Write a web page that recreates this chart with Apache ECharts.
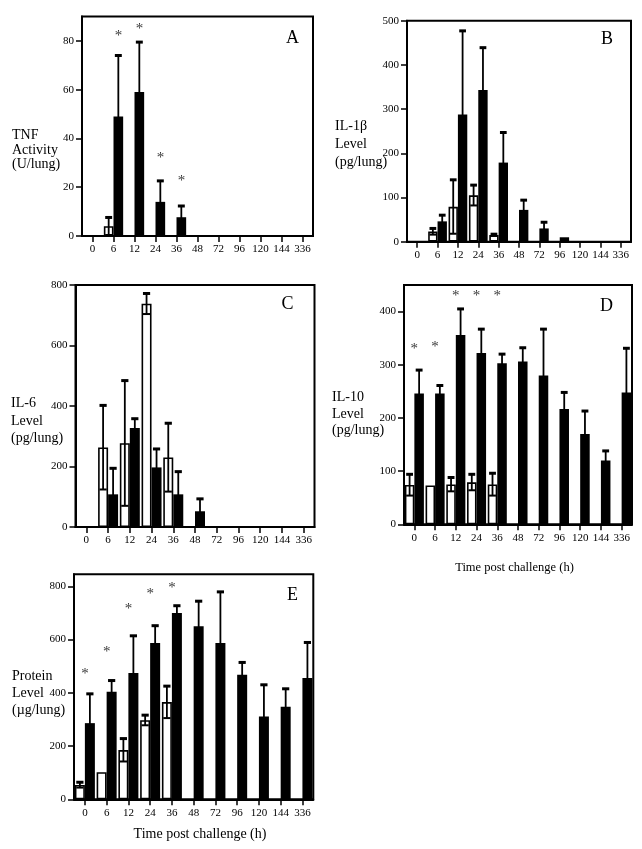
<!DOCTYPE html>
<html><head><meta charset="utf-8">
<script src="https://cdn.jsdelivr.net/npm/echarts@6/dist/echarts.min.js"></script>
<style>html,body{margin:0;padding:0;background:#fff}#c{width:642px;height:849px}</style>
</head><body><div id="c"></div>
<script>
// ---------- data ----------
const categories = ['0','6','12','24','36','48','72','96','120','144','336'];

// Panel A: TNF activity (U/lung)
const openA     = [null, 4,   null, null, null, null, null, null, null, null, null];
const openErrA  = [0,    3.6, 0,    0,    0,    0,    0,    0,    0,    0,    0];
const solidA    = [null, 49,  59,   14,   7.7,  null, null, null, null, null, null];
const solidErrA = [0,    25,  20.5, 8.6,  4.6,  0,    0,    0,    0,    0,    0];
const starA     = [null, 83.4, 86,  33,   23.7, null, null, null, null, null, null];
const yTicksA   = [0, 20, 40, 60, 80];

// Panel B: IL-1beta level (pg/lung)
const openB     = [null, 23, 79,  105, 15,  null, null, null, null, null, null];
const openErrB  = [0,    7,  61,  23,  2,   0,    0,    0,    0,    0,    0];
const solidB    = [null, 46, 288, 343, 179, 72,   30,   10,   null, null, null];
const solidErrB = [0,    14, 189, 96,  68,  22,   14,   0,    0,    0,    0];
const yTicksB   = [0, 100, 200, 300, 400, 500];

// Panel C: IL-6 level (pg/lung)
const openC     = [null, 263, 277, 738, 230, null, null, null, null, null, null];
const openErrC  = [0,    139, 207, 34,  113, 0,    0,    0,    0,    0,    0];
const solidC    = [null, 108, 327, 197, 108, 52,   null, null, null, null, null];
const solidErrC = [0,    86,  31,  61,  75,  41,   0,    0,    0,    0,    0];
const yTicksC   = [0, 200, 400, 600, 800];

// Panel D: IL-10 level (pg/lung)
const openD     = [74,  73,  75,  79,  75,  null, null, null, null, null, null];
const openErrD  = [20,  0,   13,  15,  21,  0,    0,    0,    0,    0,    0];
const solidD    = [246, 246, 356, 322, 303, 306,  280,  217,  170,  120,  248];
const solidErrD = [44,  15,  49,  45,  17,  26,   87,   31,   43,   18,   83];
const starD     = [336, 339, 434, 434, 434, null, null, null, null, null, null];
const yTicksD   = [0, 100, 200, 300, 400];

// Panel E: Protein level (µg/lung)
const openE     = [54,  102, 185, 297, 365, null, null, null, null, null, null];
const openErrE  = [10,  0,   43,  19,  60,  0,    0,    0,    0,    0,    0];
const solidE    = [286, 404, 474, 587, 700, 650,  587,  468,  311,  348,  456];
const solidErrE = [110, 42,  140, 65,  27,  94,   192,  46,   119,  67,   133];
const starE     = [480, 564, 727, 781, 806, null, null, null, null, null, null];
const yTicksE   = [0, 200, 400, 600, 800];

// ---------- styling / layout ----------
const FONT = '"Liberation Serif", "Times New Roman", serif';
const BAR_FRAC = 0.46;

const panels = [
  {open: openA, openErr: openErrA, solid: solidA, solidErr: solidErrA, star: starA, ticks: yTicksA, max: 90,
   grid: {left: 82, top: 16.5, width: 231, height: 219.5}, starDx: 5},
  {open: openB, openErr: openErrB, solid: solidB, solidErr: solidErrB, star: null, ticks: yTicksB, max: 500,
   grid: {left: 407, top: 20.7, width: 224, height: 221}, starDx: 0},
  {open: openC, openErr: openErrC, solid: solidC, solidErr: solidErrC, star: null, ticks: yTicksC, max: 800,
   grid: {left: 75.5, top: 285, width: 239, height: 242}, starDx: 0},
  {open: openD, openErr: openErrD, solid: solidD, solidErr: solidErrD, star: starD, ticks: yTicksD, max: 450,
   grid: {left: 404, top: 285, width: 228, height: 239.3}, starDx: 0},
  {open: openE, openErr: openErrE, solid: solidE, solidErr: solidErrE, star: starE, ticks: yTicksE, max: 845,
   grid: {left: 74, top: 574.3, width: 239.3, height: 225}, starDx: 0}
];

function errSeries(idx, vals, errs, side) {
  return {
    type: 'custom', xAxisIndex: idx, yAxisIndex: idx, z: 5,
    data: vals.map((v, i) => [i, v == null ? 0 : v, errs[i] || 0]),
    encode: {x: 0, y: 1},
    renderItem: function (params, api) {
      const i = api.value(0), v = api.value(1), e = api.value(2);
      if (!(e > 0)) return null;
      const band = api.size([1, 0])[0];
      const bw = band * BAR_FRAC;
      const x = api.coord([i, 0])[0] + side * bw / 2;
      const yHi = api.coord([i, v + e])[1];
      const yLo = api.coord([i, Math.max(v - e, 0)])[1];
      const cw = bw * 0.72;
      return {type: 'group', children: [
        {type: 'line', shape: {x1: x, y1: yLo, x2: x, y2: yHi}, style: {stroke: '#000', lineWidth: 1.8}},
        {type: 'line', shape: {x1: x - cw / 2, y1: yHi, x2: x + cw / 2, y2: yHi}, style: {stroke: '#000', lineWidth: 3}},
        {type: 'line', shape: {x1: x - cw / 2, y1: yLo, x2: x + cw / 2, y2: yLo}, style: {stroke: '#000', lineWidth: 2}}
      ]};
    }
  };
}

const grids = [], xAxes = [], yAxes = [], series = [];
panels.forEach((p, idx) => {
  grids.push(Object.assign({show: true, borderColor: '#000', borderWidth: 2, containLabel: false}, p.grid));
  xAxes.push({
    gridIndex: idx, type: 'category', data: categories, boundaryGap: true,
    axisLine: {show: true, lineStyle: {color: '#000', width: 2}},
    axisTick: {show: true, alignWithLabel: true, interval: 0, length: 6, lineStyle: {color: '#000', width: 1.5}},
    axisLabel: {interval: 0, fontFamily: FONT, fontSize: 11, color: '#000', margin: 8},
    splitLine: {show: false}
  });
  yAxes.push({
    gridIndex: idx, type: 'value', min: 0, max: p.max,
    axisLine: {show: true, lineStyle: {color: '#000', width: 2}},
    axisTick: {show: true, length: 6, customValues: p.ticks, lineStyle: {color: '#000', width: 1.5}},
    axisLabel: {customValues: p.ticks, fontFamily: FONT, fontSize: 11, color: '#000', margin: 8},
    splitLine: {show: false}
  });
  series.push({
    type: 'bar', xAxisIndex: idx, yAxisIndex: idx, data: p.open,
    barWidth: (BAR_FRAC * 100) + '%', barGap: '0%',
    itemStyle: {color: '#fff', borderColor: '#000', borderWidth: 1.6}
  });
  series.push({
    type: 'bar', xAxisIndex: idx, yAxisIndex: idx, data: p.solid,
    barWidth: (BAR_FRAC * 100) + '%', barGap: '0%',
    itemStyle: {color: '#000'}
  });
  series.push(errSeries(idx, p.open, p.openErr, -1));
  series.push(errSeries(idx, p.solid, p.solidErr, 1));
  if (p.star) {
    series.push({
      type: 'scatter', xAxisIndex: idx, yAxisIndex: idx, z: 6,
      symbolSize: 1, itemStyle: {color: 'rgba(0,0,0,0)'},
      data: p.star.map((v, i) => [i, v]).filter(d => d[1] != null),
      label: {show: true, position: 'inside', formatter: '*', fontFamily: FONT, fontSize: 15,
              color: '#000', offset: [p.starDx, 3]}
    });
  }
});

function txt(text, x, y, size, opts) {
  return {type: 'text', x: x, y: y, style: Object.assign({
    text: text, fontFamily: FONT, fontSize: size, fill: '#000'}, opts || {})};
}

const graphics = [
  // panel letters
  txt('A', 292.5, 38, 18, {textAlign: 'center', textVerticalAlign: 'middle'}),
  txt('B', 607, 39.5, 18, {textAlign: 'center', textVerticalAlign: 'middle'}),
  txt('C', 287.5, 304.5, 18, {textAlign: 'center', textVerticalAlign: 'middle'}),
  txt('D', 606.5, 306, 18, {textAlign: 'center', textVerticalAlign: 'middle'}),
  txt('E', 292.5, 595, 18, {textAlign: 'center', textVerticalAlign: 'middle'}),
  // y-axis titles
  txt('TNF\nActivity\n(U/lung)', 12, 128.5, 14, {textAlign: 'left', textVerticalAlign: 'top', lineHeight: 14.5}),
  txt('IL-1β\nLevel\n(pg/lung)', 335, 117, 14, {textAlign: 'left', textVerticalAlign: 'top', lineHeight: 18}),
  txt('IL-6\nLevel\n(pg/lung)', 11, 395, 14, {textAlign: 'left', textVerticalAlign: 'top', lineHeight: 17.5}),
  txt('IL-10\nLevel\n(pg/lung)', 332, 389.5, 14, {textAlign: 'left', textVerticalAlign: 'top', lineHeight: 16.3}),
  txt('Protein\nLevel\n(µg/lung)', 12, 668, 14, {textAlign: 'left', textVerticalAlign: 'top', lineHeight: 17}),
  // x-axis titles
  txt('Time post challenge (h)', 514.5, 567.5, 12.5, {textAlign: 'center', textVerticalAlign: 'middle'}),
  txt('Time post challenge (h)', 200, 834, 14, {textAlign: 'center', textVerticalAlign: 'middle'})
];

const chart = echarts.init(document.getElementById('c'), null, {renderer: 'canvas'});
chart.setOption({
  animation: false,
  backgroundColor: '#fff',
  grid: grids,
  xAxis: xAxes,
  yAxis: yAxes,
  series: series,
  graphic: graphics
});
</script>
</body></html>
